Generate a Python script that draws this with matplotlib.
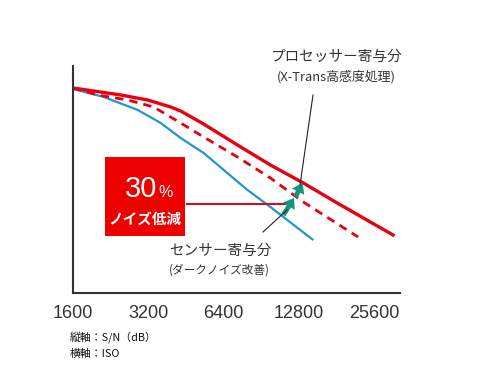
import matplotlib
matplotlib.use("Agg")
import matplotlib.pyplot as plt
from matplotlib.patches import Rectangle

plt.rcParams['font.family'] = ['Noto Sans CJK JP', 'DejaVu Sans']

# ISO ticks
iso_ticks = [1600, 3200, 6400, 12800, 25600]
tick_labels = ["1600", "3200", "6400", "12800", "25600"]

# Red solid: processor contribution (X-Trans high sensitivity processing)
proc_iso = [1600, 2487, 3185, 3934, 4312, 5326, 7275, 9856, 13344, 18226, 30480]
proc_sn = [20.5, 19.8, 19.3, 18.6, 18.2, 16.9, 14.8, 12.8, 11.0, 9.0, 5.8]

# Red dashed: sensor contribution
sens_iso = [1600, 2013, 2651, 3365, 4312, 5326, 7275, 9856, 13344, 22100]
sens_sn = [20.5, 19.8, 19.3, 18.6, 17.0, 15.6, 13.6, 11.5, 9.1, 5.6]

# Blue: baseline
base_iso = [1600, 2127, 2906, 3590, 4312, 5326, 7978, 9856, 14621]
base_sn = [20.4, 19.6, 18.3, 17.0, 15.5, 14.0, 10.3, 8.6, 5.3]

RED = '#e60012'
BLUE = '#1e96d2'
TEAL = '#10977c'
GRAY = '#333333'
LATIN = 'Liberation Sans'

fig = plt.figure(figsize=(4.9, 3.68), dpi=100)
W, H = 490, 368
ax = fig.add_axes([73 / W, 1 - 293 / H, (400 - 73) / W, (293 - 66) / H])
ax.set_xscale('log', base=2)
ax.set_xlim(1600, 1600 * 2 ** ((400 - 72) / 75.5))
ax.set_ylim(0, 22.7)

ax.plot(base_iso, base_sn, color=BLUE, lw=1.6, solid_capstyle='butt', solid_joinstyle='round')
ax.plot(sens_iso, sens_sn, color=RED, lw=2.0, dashes=(3, 2.2))
ax.plot(proc_iso, proc_sn, color=RED, lw=2.4, solid_joinstyle='round')

for s in ['top', 'right']:
    ax.spines[s].set_visible(False)
for s in ['left', 'bottom']:
    ax.spines[s].set_color(GRAY)
    ax.spines[s].set_linewidth(1.5)

ax.set_xticks(iso_ticks)
ax.set_xticklabels(tick_labels, fontfamily=LATIN)
ax.xaxis.set_minor_locator(matplotlib.ticker.NullLocator())
ax.tick_params(axis='x', length=0, pad=9, labelsize=13, labelcolor=GRAY)
ax.set_yticks([])

# teal arrows: blue -> dashed, dashed -> solid
arr_pts = [((11104, 7.8), (12250, 9.5)), ((12400, 9.6), (13250, 11.0))]
for (x0, y0), (x1, y1) in arr_pts:
    ax.annotate('', xy=(x1, y1), xytext=(x0, y0),
                arrowprops=dict(arrowstyle='simple,head_width=1.0,head_length=0.7,tail_width=0.35',
                                color=TEAL, lw=0, shrinkA=0, shrinkB=0))

# red horizontal from box to arrows
ax.plot([1600 * 2 ** ((186 - 72) / 75.5), 1600 * 2 ** ((290 - 72) / 75.5)], [8.9, 8.9],
        color=RED, lw=1.4)

# red box
box = Rectangle((105 / W, 1 - 236 / H), 80 / W, 79 / H, transform=fig.transFigure,
                facecolor='#ee0000', edgecolor='none', zorder=5)
fig.patches.append(box)
fig.text(157 / W, 1 - 197 / H, '30', color='white', fontsize=21, ha='right', va='baseline',
         fontfamily=LATIN, zorder=6)
fig.text(158 / W, 1 - 197 / H, '%', color='white', fontsize=11.5, ha='left', va='baseline',
         fontfamily=LATIN, zorder=6)
fig.text(145 / W, 1 - 219 / H, 'ノイズ低減', color='white', fontsize=10.5, fontweight='bold',
         ha='center', va='center', zorder=6)

# leader lines
fig.add_artist(plt.Line2D([313 / W, 300 / W], [1 - 95 / H, 1 - 185 / H], color='#222222', lw=0.8))
fig.add_artist(plt.Line2D([263 / W, 287 / W], [1 - 232 / H, 1 - 210 / H], color='#222222', lw=0.8))

# labels
fig.text(336 / W, 1 - 57 / H, 'プロセッサー寄与分', color=GRAY, fontsize=10.5, ha='center', va='center')
fig.text(336 / W, 1 - 77 / H, '(X-Trans高感度処理)', color=GRAY, fontsize=9.3, ha='center', va='center')
fig.text(220 / W, 1 - 251 / H, 'センサー寄与分', color=GRAY, fontsize=10.5, ha='center', va='center')
fig.text(219 / W, 1 - 270 / H, '(ダークノイズ改善)', color=GRAY, fontsize=8.4, ha='center', va='center')

fig.text(70 / W, 1 - 337 / H, '縦軸：S/N（dB）', color='#111111', fontsize=7.8, ha='left', va='center')
fig.text(70 / W, 1 - 354 / H, '横軸：ISO', color='#111111', fontsize=7.8, ha='left', va='center')

fig.savefig('out.png', dpi=100)
